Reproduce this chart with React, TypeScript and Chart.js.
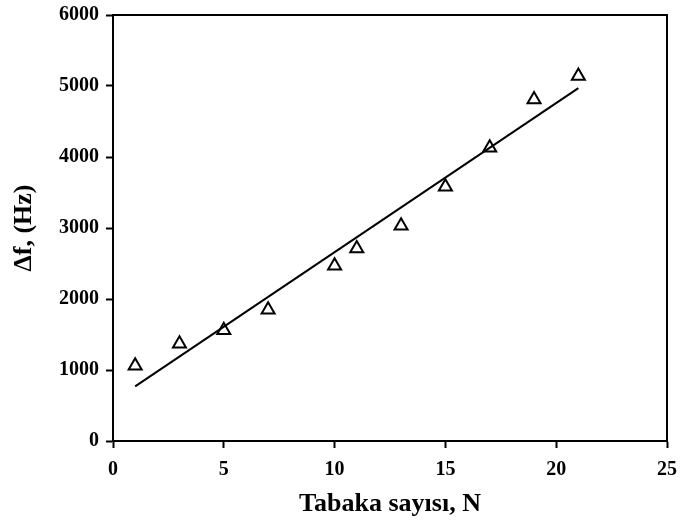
import React, { useEffect, useRef } from "react";
import { Chart, registerables } from "chart.js";

Chart.register(...registerables);

// Measured data (N = number of layers, Δf in Hz)
const layerCounts = [1, 3, 5, 7, 10, 11, 13, 15, 17, 19, 21];
const deltaF = [1060, 1370, 1560, 1850, 2470, 2710, 3030, 3580, 4130, 4810, 5140];

// Linear fit line endpoints
const fitX = [1, 21];
const fitY = [770, 4970];

const xTicks = [0, 5, 10, 15, 20, 25];
const yTicks = [0, 1000, 2000, 3000, 4000, 5000, 6000];

const xTitle = "Tabaka sayısı, N";
const yTitle = "Δf, (Hz)";

const FONT = "'Liberation Serif', 'Times New Roman', serif";

const frame = {
  id: "frame",
  afterDatasetsDraw(chart: any) {
    const { ctx, chartArea } = chart;
    ctx.save();
    ctx.strokeStyle = "#000";
    ctx.lineWidth = 2;
    ctx.strokeRect(chartArea.left, chartArea.top, chartArea.right - chartArea.left, chartArea.bottom - chartArea.top);
    ctx.restore();
  },
};

export default function App() {
  const ref = useRef<HTMLCanvasElement | null>(null);

  useEffect(() => {
    if (!ref.current) return;
    const chart = new Chart(ref.current, {
      type: "scatter",
      data: {
        datasets: [
          {
            type: "line",
            data: fitX.map((x, i) => ({ x, y: fitY[i] })),
            borderColor: "#000",
            borderWidth: 2,
            pointRadius: 0,
            fill: false,
          } as any,
          {
            data: layerCounts.map((x, i) => ({ x, y: deltaF[i] })),
            pointStyle: "triangle",
            pointRadius: 7.5,
            pointBorderWidth: 2,
            pointBorderColor: "#000",
            pointBackgroundColor: "#fff",
          },
        ],
      },
      options: {
        responsive: false,
        animation: false,
        devicePixelRatio: 1,
        layout: { padding: { left: 0, top: 15, right: 15, bottom: 0 } },
        plugins: { legend: { display: false }, tooltip: { enabled: false } },
        scales: {
          x: {
            type: "linear",
            min: 0,
            max: 25,
            afterBuildTicks: (s: any) => {
              s.ticks = xTicks.map((v) => ({ value: v }));
            },
            afterFit: (s: any) => {
              s.height = 82;
              s.paddingLeft = 0;
              s.paddingRight = 0;
            },
            border: { display: true, color: "#000", width: 2 },
            grid: { drawOnChartArea: false, drawTicks: true, tickLength: 7, tickColor: "#000", tickWidth: 2 },
            ticks: {
              color: "#000",
              padding: 10,
              maxRotation: 0,
              callback: (v: any) => String(v),
              font: { family: FONT, size: 20, weight: "bold" },
            },
            title: {
              display: true,
              text: xTitle,
              color: "#000",
              padding: { top: 0, bottom: 3 },
              font: { family: FONT, size: 26, weight: "bold" },
            },
          },
          y: {
            type: "linear",
            min: 0,
            max: 6000,
            afterBuildTicks: (s: any) => {
              s.ticks = yTicks.map((v) => ({ value: v }));
            },
            afterFit: (s: any) => {
              s.width = 113;
              s.paddingTop = 0;
              s.paddingBottom = 0;
            },
            border: { display: true, color: "#000", width: 2 },
            grid: { drawOnChartArea: false, drawTicks: true, tickLength: 7, tickColor: "#000", tickWidth: 2 },
            ticks: {
              color: "#000",
              padding: 7,
              callback: (v: any) => String(v),
              font: { family: FONT, size: 20, weight: "bold" },
            },
            title: {
              display: true,
              text: yTitle,
              color: "#000",
              padding: { top: 9, bottom: 0 },
              font: { family: FONT, size: 26, weight: "bold" },
            },
          },
        },
      },
      plugins: [frame],
    });
    return () => chart.destroy();
  }, []);

  return (
    <div style={{ position: "fixed", left: 0, top: 0, width: 682, height: 523, background: "#fff" }}>
      <canvas ref={ref} width={682} height={523} />
    </div>
  );
}
